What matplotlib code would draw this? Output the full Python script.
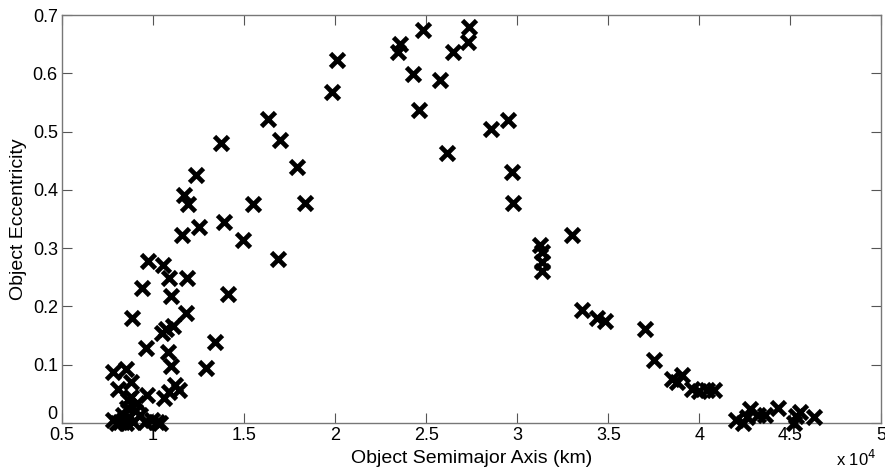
import numpy as np
import matplotlib
matplotlib.use("Agg")
import matplotlib.pyplot as plt
import matplotlib.ticker as mticker

plt.rcParams["font.family"] = ["Liberation Sans", "DejaVu Sans"]

# semimajor axis (km) and eccentricity of each tracked object
semimajor_km = [
    7800, 8500, 8790, 8090, 8640, 9100, 8550, 9290, 8370, 9650, 8800, 9000, 8700,
    7820, 8000, 8190, 8500, 8920, 9560, 9930, 10200, 10400,
    10600, 10900, 11200, 11400,
    9620, 10810, 11000, 12900, 13410, 10480, 10710, 11120, 11800, 8830,
    9380, 10970, 14140, 10900, 11850, 9740, 10530, 16880,
    11580, 12540, 13920, 14930, 11720, 11900, 15510, 18350, 12360, 17910,
    13740, 17000, 16340,
    19820, 20130, 23570, 23480, 24820, 27360, 27320, 26450, 24270, 25770,
    24620, 26170, 28570, 29520, 29740, 29760,
    33000, 31260, 31350, 31350, 31350, 33550, 34380, 34800, 37000, 37530,
    38500, 39050, 38800, 39600, 40000, 40400, 40800,
    42000, 42400, 42600, 42800, 43200, 43600, 44300, 45200, 45300, 45500, 46300,
]
eccentricity = [
    0.087, 0.093, 0.071, 0.058, 0.039, 0.034, 0.025, 0.014, 0.014, 0.048, 0.045, 0.020, 0.010,
    0.005, 0.000, 0.002, 0.000, 0.002, 0.002, 0.005, 0.002, 0.000,
    0.043, 0.053, 0.065, 0.056,
    0.128, 0.122, 0.098, 0.095, 0.139, 0.154, 0.161, 0.166, 0.189, 0.180,
    0.232, 0.217, 0.221, 0.249, 0.249, 0.278, 0.271, 0.282,
    0.322, 0.336, 0.344, 0.314, 0.391, 0.375, 0.375, 0.377, 0.425, 0.439,
    0.481, 0.485, 0.521,
    0.568, 0.623, 0.651, 0.637, 0.674, 0.680, 0.654, 0.636, 0.599, 0.588,
    0.537, 0.463, 0.504, 0.520, 0.430, 0.377,
    0.322, 0.305, 0.294, 0.277, 0.260, 0.193, 0.180, 0.175, 0.161, 0.108,
    0.075, 0.082, 0.070, 0.058, 0.055, 0.057, 0.057,
    0.005, 0.000, 0.010, 0.024, 0.014, 0.014, 0.025, 0.000, 0.011, 0.019, 0.010,
]

x_ticks = np.arange(5000, 50001, 5000)
y_ticks = np.arange(0, 0.71, 0.1)

fig = plt.figure(figsize=(8.85, 4.73), dpi=100)
ax = fig.add_axes([0.070, 0.106, 0.926, 0.862])

ax.plot(semimajor_km, eccentricity, linestyle="none", marker="x",
        markersize=10, markeredgewidth=3.4, color="black", clip_on=False,
        zorder=3)

ax.set_xlim(5000, 50000)
ax.set_ylim(0, 0.7)
ax.set_xticks(x_ticks)
ax.set_yticks(y_ticks)
ax.xaxis.set_major_formatter(mticker.FuncFormatter(lambda v, p: f"{v / 1e4:g}"))
ax.yaxis.set_major_formatter(mticker.FuncFormatter(lambda v, p: f"{v:.1f}".rstrip("0").rstrip(".") if v else "0"))

for side in ["top", "bottom", "left", "right"]:
    ax.spines[side].set_color("#777777")
    ax.spines[side].set_linewidth(1.0)
ax.tick_params(direction="in", length=7, width=0.8, color="#555555",
               top=True, right=True, labelsize=13, pad=3)

# keep the y "0" clear of the x "0.5" at the corner
ax.yaxis.get_major_ticks()[0].label1.set_va("bottom")

ax.set_xlabel("Object Semimajor Axis (km)", fontsize=14, labelpad=4)
ax.set_ylabel("Object Eccentricity", fontsize=14, labelpad=4)

fig.text(0.945, 0.008, r"x 10$^{4}$", fontsize=12, ha="left", va="bottom")

fig.savefig("out.png", dpi=100)
